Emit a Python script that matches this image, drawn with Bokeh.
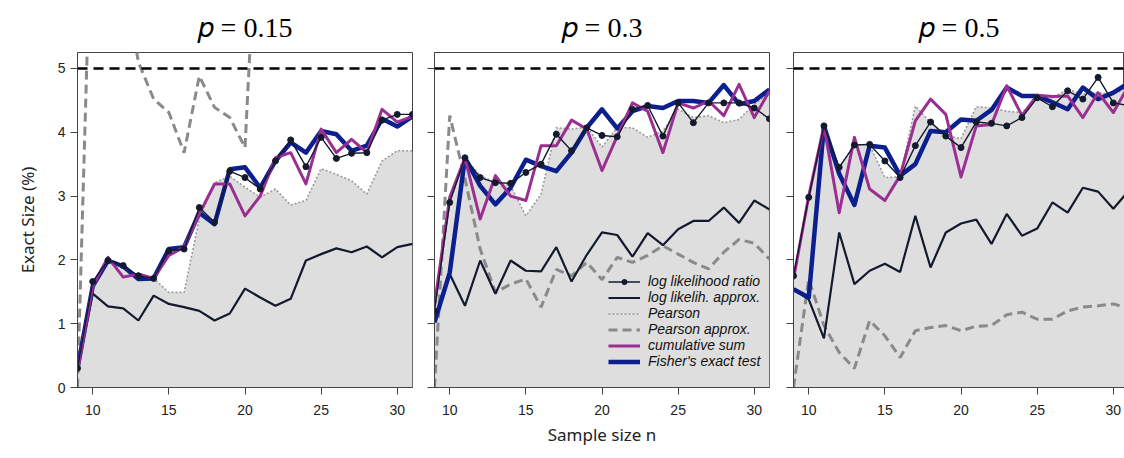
from bokeh.plotting import figure
from bokeh.models import FixedTicker, Legend, LegendItem, Span
from bokeh.layouts import row
from bokeh.embed import file_html
from bokeh.resources import INLINE

n = list(range(9, 32))

p_labels = ["0.15", "0.3", "0.5"]

llr_015 = [0.30, 1.66, 1.99, 1.91, 1.75, 1.71, 2.14, 2.17, 2.82, 2.59, 3.39, 3.29, 3.11, 3.55, 3.88, 3.46, 3.92, 3.59, 3.67, 3.68, 4.19, 4.28, 4.28]
approx_015 = [0.30, 1.47, 1.27, 1.24, 1.05, 1.44, 1.31, 1.26, 1.20, 1.05, 1.16, 1.55, 1.41, 1.28, 1.39, 1.99, 2.09, 2.18, 2.12, 2.21, 2.04, 2.20, 2.25]
pearson_015 = [0.30, 1.60, 2.00, 1.88, 1.72, 1.71, 1.49, 1.49, 2.65, 3.21, 3.31, 3.14, 2.98, 3.11, 2.86, 2.93, 3.43, 3.34, 3.24, 3.03, 3.55, 3.71, 3.71]
pearson_approx_015 = [0.0, 8.3, 7.5, 6.45, 5.10, 4.52, 4.31, 3.68, 4.88, 4.39, 4.23, 3.76, 8.5, 8.4, 8.2, 8.0, 7.9, 7.8, 7.7, 7.6, 7.5, 7.4, 7.3]
cumsum_015 = [0.25, 1.59, 2.04, 1.73, 1.78, 1.71, 2.07, 2.20, 2.72, 3.19, 3.19, 2.69, 3.00, 3.60, 3.68, 3.19, 4.05, 3.68, 3.89, 3.68, 4.36, 4.16, 4.25]
fisher_015 = [0.30, 1.59, 1.99, 1.90, 1.70, 1.71, 2.17, 2.20, 2.74, 2.56, 3.42, 3.45, 3.13, 3.55, 3.84, 3.68, 4.02, 3.97, 3.71, 3.79, 4.21, 4.09, 4.25]

llr_03 = [1.20, 2.90, 3.60, 3.29, 3.21, 3.20, 3.37, 3.50, 3.97, 3.71, 4.07, 3.95, 3.93, 4.36, 4.42, 3.94, 4.46, 4.15, 4.46, 4.46, 4.46, 4.38, 4.21]
approx_03 = [1.07, 1.78, 1.28, 1.99, 1.47, 1.99, 1.83, 1.82, 2.20, 1.66, 2.08, 2.43, 2.39, 2.05, 2.42, 2.23, 2.48, 2.61, 2.61, 2.82, 2.58, 2.93, 2.79]
pearson_03 = [1.20, 2.90, 3.60, 3.32, 3.22, 3.16, 2.69, 3.03, 4.07, 4.05, 4.08, 3.77, 4.07, 4.07, 3.92, 4.02, 4.36, 4.23, 4.26, 4.15, 4.20, 4.44, 4.62]
pearson_approx_03 = [0.0, 4.26, 3.27, 2.17, 1.49, 1.62, 1.70, 1.26, 1.85, 1.75, 1.96, 1.69, 2.04, 1.96, 2.07, 2.22, 2.09, 1.96, 1.86, 2.12, 2.32, 2.26, 2.01]
cumsum_03 = [1.30, 2.98, 3.60, 2.64, 3.32, 3.00, 2.93, 3.79, 3.79, 4.19, 4.05, 3.40, 3.94, 4.46, 4.33, 3.68, 4.46, 4.38, 4.49, 4.26, 4.75, 4.23, 4.65]
fisher_03 = [1.02, 1.80, 3.60, 3.16, 2.87, 3.13, 3.57, 3.47, 3.39, 3.68, 4.07, 4.36, 4.06, 4.33, 4.41, 4.38, 4.49, 4.49, 4.46, 4.74, 4.44, 4.49, 4.67]

llr_05 = [1.75, 2.98, 4.10, 3.45, 3.80, 3.81, 3.55, 3.29, 3.79, 4.16, 3.94, 3.76, 4.16, 4.14, 4.10, 4.23, 4.54, 4.40, 4.65, 4.52, 4.86, 4.46, 4.42]
approx_05 = [1.54, 1.38, 0.77, 2.43, 1.62, 1.83, 1.94, 1.81, 2.69, 1.88, 2.43, 2.57, 2.63, 2.25, 2.72, 2.38, 2.49, 2.90, 2.74, 3.13, 3.07, 2.80, 3.08]
pearson_05 = [1.70, 3.00, 4.10, 3.45, 3.80, 3.80, 3.29, 3.30, 4.41, 4.15, 3.95, 3.90, 4.40, 4.38, 4.33, 4.31, 4.54, 4.54, 4.67, 4.60, 4.62, 4.59, 4.72]
pearson_approx_05 = [0.0, 1.70, 0.97, 0.55, 0.30, 1.05, 0.81, 0.47, 0.89, 0.94, 0.97, 0.89, 0.96, 0.97, 1.14, 1.18, 1.07, 1.07, 1.20, 1.26, 1.28, 1.31, 1.24]
cumsum_05 = [1.70, 3.00, 4.10, 2.74, 3.92, 3.11, 2.93, 3.32, 4.18, 4.52, 4.28, 3.30, 4.10, 4.12, 4.73, 4.26, 4.58, 4.56, 4.57, 4.23, 4.62, 4.31, 4.73]
fisher_05 = [1.54, 1.41, 4.10, 3.35, 2.86, 3.79, 3.76, 3.32, 3.50, 4.02, 4.00, 4.20, 4.18, 4.35, 4.70, 4.57, 4.57, 4.47, 4.36, 4.70, 4.52, 4.62, 4.77]

x_ticks = [10, 15, 20, 25, 30]
y_ticks = [0, 1, 2, 3, 4, 5]
nominal_level = 5

DARK = "#141a2e"
FILL = "#dedede"
DOT_GRAY = "#9a9a9a"
DASH_GRAY = "#8a8a8a"
PURPLE = "#9b2f91"
BLUE = "#0b1f8f"
AXIS_COL = "#444444"

TICK_FONT = "Liberation Sans"
LABEL_FONT = "Noto Sans"


def make_panel(idx, llr, approx, pearson, papprox, cumsum, fisher,
               frame_w, x_end, b_left, b_right):
    p = figure(frame_width=frame_w, frame_height=335,
               x_range=(9, x_end), y_range=(0, 5.25),
               output_backend="svg", toolbar_location=None,
               min_border_left=b_left, min_border_right=b_right,
               min_border_top=52, min_border_bottom=71)
    p.xgrid.visible = False
    p.ygrid.visible = False
    p.outline_line_color = AXIS_COL
    p.outline_line_width = 1
    p.background_fill_color = "white"
    p.border_fill_color = "white"

    p.title.text = "\U0001D45D = " + p_labels[idx]
    p.title.align = "center"
    p.title.vertical_align = "top"
    p.title.text_font = "Liberation Serif"
    p.title.text_font_style = "normal"
    p.title.text_font_size = "28px"
    p.title.text_color = "black"
    p.title.standoff = 16

    for ax in (p.xaxis[0], p.yaxis[0]):
        ax.axis_line_color = AXIS_COL
        ax.major_tick_line_color = AXIS_COL
        ax.major_tick_out = 7
        ax.major_tick_in = 0
        ax.minor_tick_line_color = None
        ax.major_label_text_font = TICK_FONT
        ax.major_label_text_font_size = "14px"
        ax.major_label_text_color = "#222222"
    p.xaxis.ticker = FixedTicker(ticks=x_ticks)
    p.yaxis.ticker = FixedTicker(ticks=y_ticks)
    p.xaxis.major_label_standoff = 10

    if idx == 0:
        p.yaxis.axis_label = "Exact Size (%)"
        p.yaxis.axis_label_text_font = LABEL_FONT
        p.yaxis.axis_label_text_font_size = "17px"
        p.yaxis.axis_label_text_font_style = "normal"
        p.yaxis.axis_label_text_color = "#222222"
        p.yaxis.axis_label_standoff = 16
        p.yaxis.major_label_standoff = 5
    else:
        p.yaxis.major_label_overrides = {t: "" for t in y_ticks}
        p.yaxis.major_label_standoff = 0
    if idx == 1:
        p.xaxis.axis_label = "Sample size n"
        p.xaxis.axis_label_text_font = LABEL_FONT
        p.xaxis.axis_label_text_font_size = "17px"
        p.xaxis.axis_label_text_font_style = "normal"
        p.xaxis.axis_label_text_color = "#222222"
        p.xaxis.axis_label_standoff = 5

    r_fill = p.varea(x=n, y1=[0] * len(n), y2=pearson, fill_color=FILL)
    r_pdot = p.line(n, pearson, line_color=DOT_GRAY, line_width=1.6, line_dash="2 2")
    r_papp = p.line(n, papprox, line_color=DASH_GRAY, line_width=3, line_dash="9 5")
    r_appr = p.line(n, approx, line_color=DARK, line_width=2.2)
    r_fish = p.line(n, fisher, line_color=BLUE, line_width=4.5, line_join="round")
    r_cums = p.line(n, cumsum, line_color=PURPLE, line_width=3, line_join="round")
    r_llr = p.line(n, llr, line_color=DARK, line_width=1.4)
    r_llr_pts = p.scatter(n, llr, size=6, marker="circle", fill_color=DARK, line_color=DARK)

    p.add_layout(Span(location=nominal_level, dimension="width", line_color="black",
                      line_width=2.5, line_dash="10 6"))

    if idx == 1:
        legend = Legend(items=[
            LegendItem(label="log likelihood ratio", renderers=[r_llr, r_llr_pts]),
            LegendItem(label="log likelih. approx.", renderers=[r_appr]),
            LegendItem(label="Pearson", renderers=[r_fill, r_pdot]),
            LegendItem(label="Pearson approx.", renderers=[r_papp]),
            LegendItem(label="cumulative sum", renderers=[r_cums]),
            LegendItem(label="Fisher's exact test", renderers=[r_fish]),
        ], location=(174, 18))
        legend.label_text_font = TICK_FONT
        legend.label_text_font_style = "italic"
        legend.label_text_font_size = "14px"
        legend.label_text_line_height = 0.9
        legend.label_text_color = "#111111"
        legend.label_height = 13
        legend.glyph_height = 13
        legend.glyph_width = 32
        legend.label_standoff = 8
        legend.spacing = 0
        legend.padding = 0
        legend.margin = 0
        legend.background_fill_alpha = 0
        legend.border_line_alpha = 0
        p.add_layout(legend)
    return p


p1 = make_panel(0, llr_015, approx_015, pearson_015, pearson_approx_015, cumsum_015, fisher_015,
                335, 31, 77, 11)
p2 = make_panel(1, llr_03, approx_03, pearson_03, pearson_approx_03, cumsum_03, fisher_03,
                335, 31, 11, 12)
p3 = make_panel(2, llr_05, approx_05, pearson_05, pearson_approx_05, cumsum_05, fisher_05,
                331, 9 + 331 / 15.23, 12, 0)

layout = row(p1, p2, p3)
open("out.html", "w").write(file_html(layout, INLINE))
